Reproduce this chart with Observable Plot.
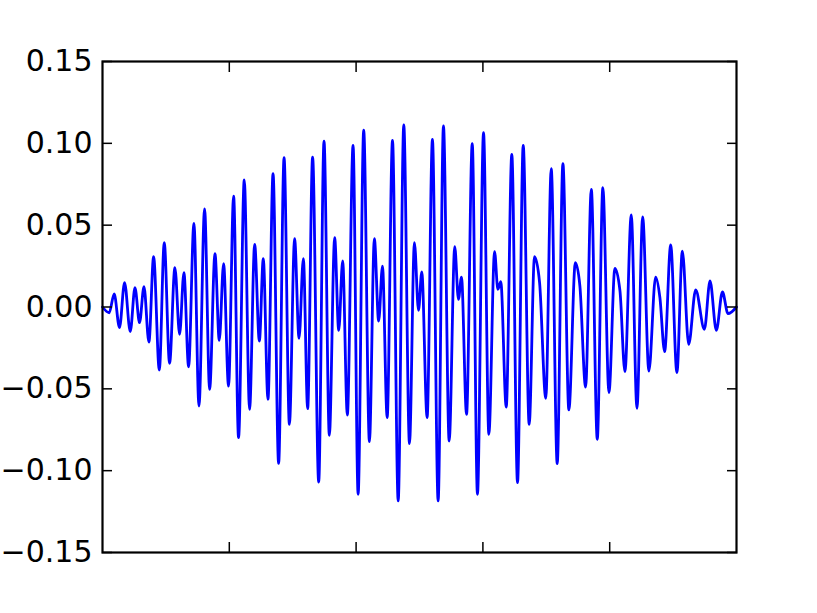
<!DOCTYPE html>
<html>
<head>
<meta charset="utf-8">
<script src="https://cdn.jsdelivr.net/npm/d3@7"></script>
<script src="https://cdn.jsdelivr.net/npm/@observablehq/plot@0.6"></script>
<style>
  html, body { margin: 0; padding: 0; background: white; }
</style>
</head>
<body>
<div id="chart"></div>
<script>
// Signal samples (extrema)
const t = [
  0.000, 0.053, 0.092, 0.134, 0.174, 0.219, 0.256, 0.292, 0.327, 0.366,
  0.403, 0.448, 0.487, 0.529, 0.571, 0.608, 0.642, 0.679, 0.721, 0.761,
  0.805, 0.845, 0.887, 0.921, 0.955, 0.994, 1.034, 1.073, 1.118, 1.160,
  1.200, 1.237, 1.268, 1.305, 1.345, 1.389, 1.432, 1.474, 1.515, 1.550,
  1.584, 1.618, 1.657, 1.705, 1.747, 1.789, 1.831, 1.863, 1.894, 1.931,
  1.976, 2.016, 2.060, 2.105, 2.144, 2.178, 2.208, 2.245, 2.287, 2.332,
  2.376, 2.421, 2.460, 2.492, 2.518, 2.560, 2.602, 2.647, 2.689, 2.734,
  2.778, 2.807, 2.831, 2.871, 2.916, 2.957, 3.005, 3.047, 3.092, 3.118,
  3.141, 3.184, 3.228, 3.273, 3.318, 3.365, 3.407, 3.447, 3.496, 3.539,
  3.586, 3.631, 3.678, 3.729, 3.765, 3.810, 3.855, 3.902, 3.946, 3.994,
  4.041, 4.081, 4.120, 4.170, 4.215, 4.260, 4.309, 4.362, 4.396, 4.433,
  4.481, 4.530, 4.573, 4.623, 4.678, 4.747, 4.791, 4.841, 4.889, 4.933,
  5.000
];
const amplitude = [
  0.0000, -0.0035, 0.0080, -0.0126, 0.0149, -0.0150, 0.0118, -0.0096, 0.0124, -0.0214,
  0.0307, -0.0385, 0.0393, -0.0344, 0.0240, -0.0167, 0.0210, -0.0365, 0.0511, -0.0605,
  0.0600, -0.0503, 0.0326, -0.0204, 0.0265, -0.0483, 0.0678, -0.0798, 0.0776, -0.0625,
  0.0383, -0.0208, 0.0295, -0.0564, 0.0815, -0.0955, 0.0912, -0.0717, 0.0417, -0.0191,
  0.0295, -0.0621, 0.0916, -0.1070, 0.1014, -0.0784, 0.0423, -0.0143, 0.0281, -0.0660,
  0.0988, -0.1144, 0.1080, -0.0823, 0.0417, -0.0086, 0.0250, -0.0676, 0.1018, -0.1185,
  0.1112, -0.0835, 0.0393, -0.0020, 0.0214, -0.0676, 0.1024, -0.1185, 0.1106, -0.0819,
  0.0368, 0.0047, 0.0183, -0.0656, 0.0998, -0.1144, 0.1065, -0.0778, 0.0338, 0.0108,
  0.0155, -0.0611, 0.0933, -0.1073, 0.0988, -0.0717, 0.0307, 0.0149, -0.0558, 0.0845,
  -0.0957, 0.0876, -0.0629, 0.0271, 0.0128, -0.0489, 0.0719, -0.0808, 0.0729, -0.0523,
  0.0236, 0.0098, -0.0395, 0.0562, -0.0619, 0.0550, -0.0391, 0.0183, 0.0057, -0.0273,
  0.0379, -0.0401, 0.0342, -0.0228, 0.0104, -0.0136, 0.0159, -0.0143, 0.0092, -0.0041,
  0.0000
];
const yTicks = [-0.15, -0.10, -0.05, 0.00, 0.05, 0.10, 0.15];
const xTicks = [1, 2, 3, 4];

const data = t.map((x, i) => ({x, y: amplitude[i]}));

const chart = Plot.plot({
  width: 817,
  height: 613,
  marginLeft: 102,
  marginRight: 81,
  marginTop: 61,
  marginBottom: 61,
  style: {fontFamily: "DejaVu Sans", fontSize: "30px", background: "white", color: "black"},
  x: {domain: [0, 5]},
  y: {domain: [-0.15, 0.15]},
  marks: [
    Plot.line(data, {x: "x", y: "y", stroke: "#0000ff", strokeWidth: 2.8, curve: "monotone-x"}),
    Plot.axisY(yTicks, {anchor: "left", tickSize: 0, tickPadding: 10, tickFormat: d3.format(".2f"), label: null, fontSize: 30}),
    Plot.axisY(yTicks, {anchor: "left", tickSize: -10, tickFormat: () => "", label: null, strokeWidth: 1.5}),
    Plot.axisY(yTicks, {anchor: "right", tickSize: -10, tickFormat: () => "", label: null, strokeWidth: 1.5}),
    Plot.axisX(xTicks, {anchor: "bottom", tickSize: -10, tickFormat: () => "", label: null, strokeWidth: 1.5}),
    Plot.axisX(xTicks, {anchor: "top", tickSize: -10, tickFormat: () => "", label: null, strokeWidth: 1.5}),
    Plot.frame({stroke: "black", strokeWidth: 2.2})
  ]
});
document.getElementById("chart").appendChild(chart);
</script>
</body>
</html>
